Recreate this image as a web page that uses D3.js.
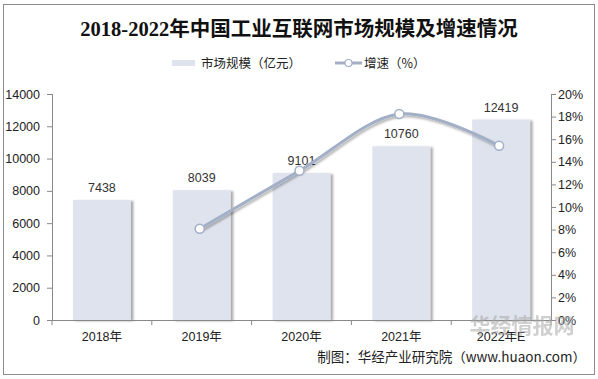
<!DOCTYPE html>
<html><head><meta charset="utf-8">
<script src="https://cdn.jsdelivr.net/npm/d3@7"></script>
<style>
html,body{margin:0;padding:0;background:#fff;}
svg{display:block;}
</style></head>
<body>
<svg id="chart" width="598" height="379"></svg>
<script>
const categories = ["2018年","2019年","2020年","2021年","2022年E"];
const marketSize = [7438, 8039, 9101, 10760, 12419];
const growthYears = ["2019年","2020年","2021年","2022年E"];
const growthRate = [8.08, 13.21, 18.23, 15.42];
const leftTicks = [0,2000,4000,6000,8000,10000,12000,14000];
const rightTicks = [0,2,4,6,8,10,12,14,16,18,20];
const title = "2018-2022年中国工业互联网市场规模及增速情况";
const legendLabels = ["市场规模（亿元）","增速（%）"];
const source = "制图：华经产业研究院（www.huaon.com）";

const svg = d3.select("#chart");
const W = 598, H = 379;
const m = {left:52, right:551, top:94, bottom:320};
const sansFont = "Arial, 'Liberation Sans', 'Noto Sans CJK SC', sans-serif";

const defs = svg.append("defs");
const f1 = defs.append("filter").attr("id","barShadow").attr("x","-20%").attr("y","-10%").attr("width","140%").attr("height","120%");
f1.append("feDropShadow").attr("dx",2.5).attr("dy",1).attr("stdDeviation",1.3).attr("flood-color","#000").attr("flood-opacity",0.35);
const f2 = defs.append("filter").attr("id","lineShadow").attr("x","-10%").attr("y","-20%").attr("width","120%").attr("height","150%");
f2.append("feDropShadow").attr("dx",1.5).attr("dy",2).attr("stdDeviation",1.3).attr("flood-color","#000").attr("flood-opacity",0.3);

// outer border
svg.append("rect").attr("x",3.5).attr("y",4.5).attr("width",591).attr("height",370)
  .attr("fill","#fff").attr("stroke","#8c8c8c").attr("stroke-width",1);

// title
svg.append("text").attr("x",W/2).attr("y",36).attr("text-anchor","middle")
  .attr("font-family","'Liberation Serif','Noto Sans CJK SC',serif").attr("font-weight","bold")
  .attr("font-size",20.5).attr("fill","#111").text(title);

// scales
const x = d3.scaleBand().domain(categories).range([m.left, m.right]).paddingInner(0.42).paddingOuter(0.21);
const xTick = d3.scaleBand().domain(categories).range([m.left, m.right]);
const yL = d3.scaleLinear().domain([0,14000]).range([m.bottom, m.top]);
const yR = d3.scaleLinear().domain([0,20]).range([m.bottom, m.top]);

// bars
svg.append("g").selectAll("rect").data(marketSize).join("rect")
  .attr("x",(d,i)=>x(categories[i])).attr("width",x.bandwidth())
  .attr("y",d=>yL(d)).attr("height",d=>yL(0)-yL(d))
  .attr("fill","#dee3ed").attr("filter","url(#barShadow)");

// bar labels
svg.append("g").selectAll("text").data(marketSize).join("text")
  .attr("x",(d,i)=>x(categories[i])+x.bandwidth()/2).attr("y",d=>yL(d)-8)
  .attr("text-anchor","middle").attr("font-family",sansFont).attr("font-size",12.5).attr("fill","#333")
  .text(d=>d);

// axes
const axL = svg.append("g").attr("transform",`translate(${m.left},0)`)
  .call(d3.axisLeft(yL).tickValues(leftTicks).tickSize(5).tickPadding(7).tickFormat(d3.format("d")));
const axR = svg.append("g").attr("transform",`translate(${m.right},0)`)
  .call(d3.axisRight(yR).tickValues(rightTicks).tickSize(5).tickPadding(2).tickFormat(d=>d+"%"));
const axX = svg.append("g").attr("transform",`translate(0,${m.bottom})`)
  .call(d3.axisBottom(xTick).tickSize(0).tickPadding(12));
// category boundary ticks
const boundaries = categories.map(c=>xTick(c)).concat([m.right]);
axX.selectAll(".bt").data(boundaries).join("line").attr("class","bt")
  .attr("x1",d=>d).attr("x2",d=>d).attr("y1",0).attr("y2",5).attr("stroke","#888");
[axL,axR,axX].forEach(a=>{
  a.selectAll(".domain").attr("stroke","#888");
  a.selectAll(".tick line").attr("stroke","#888");
  a.selectAll("text").attr("font-family",sansFont).attr("font-size",12.5).attr("fill","#222");
});
axX.selectAll(".domain").attr("d",`M${m.left},0.5H${m.right}`);
axL.selectAll(".domain").attr("d",`M0.5,${m.top}V${m.bottom}`);
axR.selectAll(".domain").attr("d",`M0.5,${m.top}V${m.bottom}`);

// watermark
svg.append("text").attr("x",522).attr("y",333).attr("text-anchor","middle")
  .attr("font-family","'Noto Sans CJK SC',sans-serif").attr("font-weight","bold").attr("font-size",21)
  .attr("fill","#a8a8a8").attr("opacity",0.55).text("华经情报网");

// line
const cx = c => xTick(c) + xTick.bandwidth()/2 - 2;
const lineGen = d3.line().x((d,i)=>cx(growthYears[i])).y(d=>yR(d)).curve(d3.curveCardinal.tension(0));
svg.append("path").datum(growthRate).attr("d",lineGen)
  .attr("fill","none").attr("stroke","#a2afc7").attr("stroke-width",3).attr("filter","url(#lineShadow)");
svg.append("g").selectAll("circle").data(growthRate).join("circle")
  .attr("cx",(d,i)=>cx(growthYears[i])).attr("cy",d=>yR(d)).attr("r",4.5)
  .attr("fill","#fff").attr("stroke","#a2afc7").attr("stroke-width",1.5);

// legend
const lg = svg.append("g");
lg.append("rect").attr("x",172).attr("y",60).attr("width",23).attr("height",6).attr("fill","#dee3ed");
lg.append("text").attr("x",201).attr("y",67.5).attr("font-family","'Noto Sans CJK SC',sans-serif")
  .attr("font-size",12.5).attr("fill","#222").text(legendLabels[0]);
lg.append("line").attr("x1",335).attr("x2",362).attr("y1",63).attr("y2",63).attr("stroke","#a2afc7").attr("stroke-width",3);
lg.append("circle").attr("cx",348.5).attr("cy",63).attr("r",3.5).attr("fill","#fff").attr("stroke","#a2afc7").attr("stroke-width",1.2);
lg.append("text").attr("x",364).attr("y",67.5).attr("font-family","'Noto Sans CJK SC',sans-serif")
  .attr("font-size",12.5).attr("fill","#222").text(legendLabels[1]);

// source
svg.append("text").attr("x",586).attr("y",362).attr("text-anchor","end")
  .attr("font-family","'Noto Sans CJK SC',sans-serif").attr("font-size",13.5).attr("fill","#222").text(source);
</script>
</body></html>
